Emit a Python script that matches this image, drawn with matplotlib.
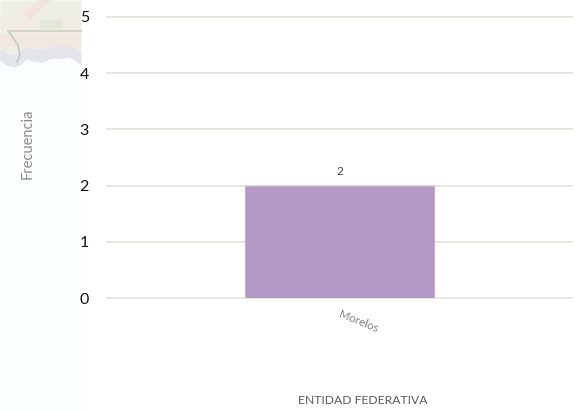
import matplotlib
matplotlib.use('Agg')
from matplotlib import pyplot as plt

plt.rcParams['font.family'] = ['Lato', 'DejaVu Sans']

categories = ['Morelos']
values = [2]
y_ticks = [0, 1, 2, 3, 4, 5]

W, H = 576, 411
fig = plt.figure(figsize=(W / 100, H / 100), dpi=100, facecolor='white')

# background strip and the bit of map that shows behind the y labels
bg = fig.add_axes([0, 0, 1, 1], zorder=0)
bg.set_xlim(0, W)
bg.set_ylim(H, 0)
bg.axis('off')
bg.fill_between([0, 81], 0, H, color='#fafefe', lw=0)

edge_x = [0, 6, 14, 20, 26, 33, 42, 52, 60, 68, 75, 81]
edge_y = [60, 65, 67, 65, 59, 61, 62, 58, 58, 57, 60, 65]
bg.fill_between(edge_x, 0, edge_y, color='#eeeee6', lw=0)
bg.fill_between(edge_x, [y - 12 for y in edge_y], edge_y, color='#e2e3ec', lw=0, alpha=0.8)
bg.fill_between([0, 81], 34, 47, color='#f6e2df', lw=0, alpha=0.6)
bg.fill_between([0, 81], 18, 30, color='#f3ebe4', lw=0, alpha=0.8)
bg.plot([30, 45], [14, 0], color='#f4dfdf', lw=6, alpha=0.8)
bg.plot([8, 81], [31, 31], color='#cfd2c3', lw=1.3)
bg.plot([9, 18, 20, 17], [32, 45, 55, 62], color='#c6cbc8', lw=1.3)
bg.fill_between([40, 62], 20, 29, color='#dfe7d8', lw=0, alpha=0.8)

left, right, top, bottom = 107, 572, 17, 298
ax = fig.add_axes([left / W, 1 - bottom / H, (right - left) / W, (bottom - top) / H], zorder=1)
ax.patch.set_alpha(0)

bars = ax.bar(categories, values, width=0.406, color='#b498c6',
              edgecolor='#c3aed2', lw=0.8, zorder=3)
ax.bar_label(bars, labels=[str(v) for v in values], padding=6, fontsize=8.5, color='#404040')

ax.set_ylim(0, 5)
ax.set_xlim(-0.5, 0.5)
ax.set_yticks(y_ticks)
ax.grid(axis='y', color='#e4e0d4', lw=1.2, zorder=0, clip_on=False)
for line in ax.get_ygridlines():
    line.set_clip_on(False)
for s in ax.spines.values():
    s.set_visible(False)
ax.tick_params(axis='y', length=0, pad=13, labelsize=11.5, labelcolor='#111111')
ax.tick_params(axis='x', length=0, labelbottom=False)

# text placed in pixel coords of the figure
ax.annotate(categories[0], xy=(358, 322), xycoords=bg.transData, rotation=-22,
            ha='center', va='center', fontsize=8.2, color='#808080')
bg.text(28, 144, 'Frecuencia', rotation=90, ha='center', va='center', fontsize=10.5, color='#8c8c8c')
bg.text(363, 400, 'ENTIDAD FEDERATIVA', ha='center', va='center', fontsize=8.7, color='#595959')

fig.savefig('out.png', dpi=100)
